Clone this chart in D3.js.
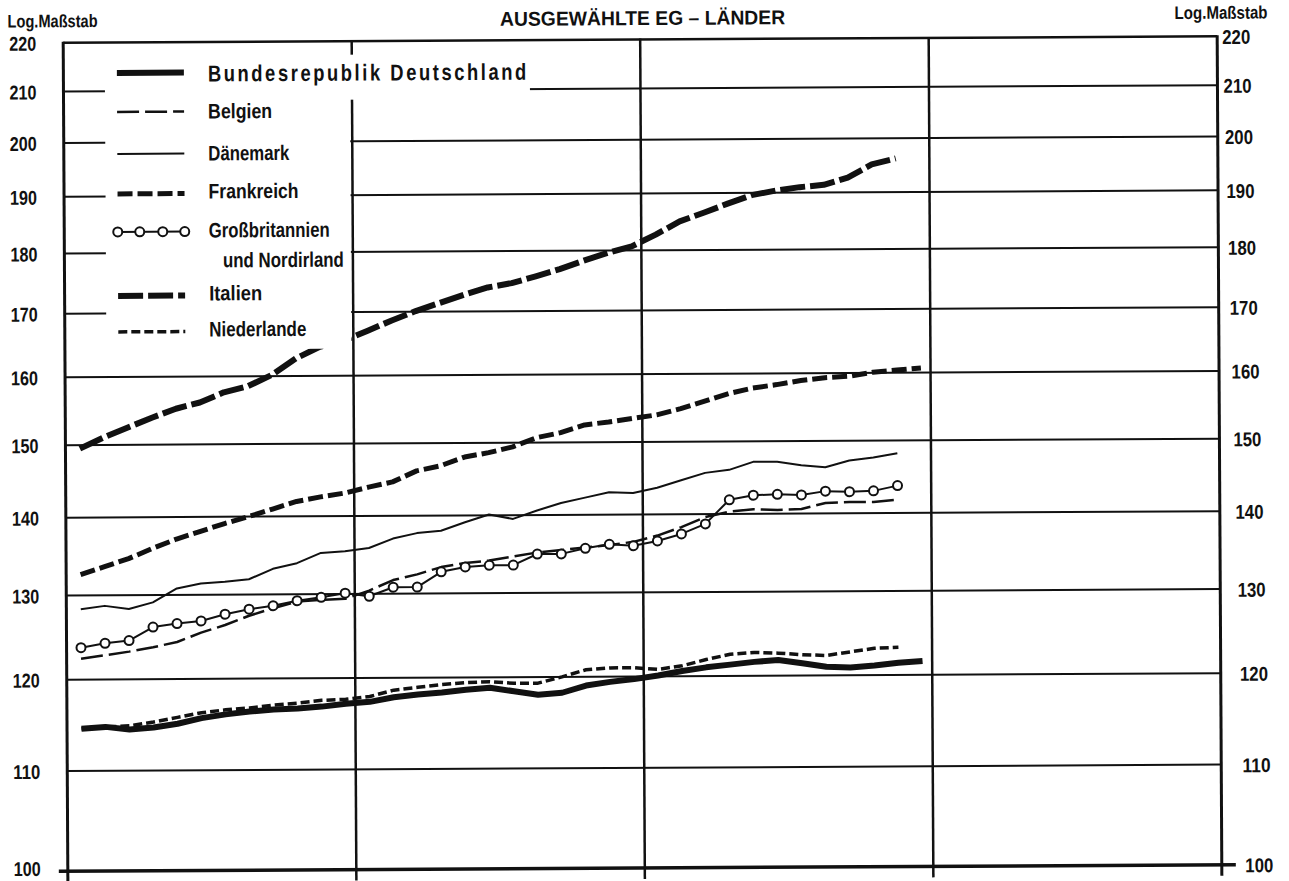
<!DOCTYPE html>
<html>
<head>
<meta charset="utf-8">
<script src="https://cdn.jsdelivr.net/npm/d3@7"></script>
<style>
  html, body { margin: 0; padding: 0; background: #fff; }
  svg { display: block; }
  text { font-family: "Liberation Sans", Arial, sans-serif; font-weight: bold; fill: #111; }
  .tick text { font-size: 20px; }
  .legend text { font-size: 21px; }
  .legend text.wide { font-size: 23px; }
  .scaleNote { font-size: 18px; }
  .title { font-size: 20px; }
</style>
</head>
<body>
<svg id="chart" width="1289" height="881"></svg>
<script>
'use strict';

// months Jan of year 1 .. Dec of year 3 (index)
const months = [0, 1, 2, 3, 4, 5, 6, 7, 8, 9, 10, 11,
                12, 13, 14, 15, 16, 17, 18, 19, 20, 21, 22, 23,
                24, 25, 26, 27, 28, 29, 30, 31, 32, 33, 34, 35];
const yearBreaks = [0, 12, 24, 36, 48];
const yTicks = [100, 110, 120, 130, 140, 150, 160, 170, 180, 190, 200, 210, 220];

const deutschland = [114.5, 114.7, 114.4, 114.6, 115.0, 115.6, 116.0, 116.3, 116.5, 116.6,
    116.8, 117.1, 117.3, 117.8, 118.1, 118.3, 118.6, 118.8, 118.4, 118.0,
    118.2, 119.0, 119.4, 119.7, 120.1, 120.6, 121.0, 121.3, 121.6, 121.8,
    121.4, 121.0, 120.9, 121.1, 121.4, 121.6];
const belgien = [122.4, 122.8, 123.2, 123.7, 124.3, 125.4, 126.3, 127.4, 128.3, 129.1,
    129.3, 129.4, 130.4, 131.7, 132.4, 133.3, 133.8, 134.1, 134.6, 135.1,
    135.4, 135.7, 136.0, 136.4, 137.2, 138.3, 139.6, 140.3, 140.6, 140.5,
    140.6, 141.4, 141.5, 141.5, 141.8];
const daenemark = [128.3, 128.7, 128.3, 129.1, 130.8, 131.4, 131.6, 131.9, 133.2, 133.9,
    135.2, 135.4, 135.8, 137.0, 137.7, 138.0, 139.1, 140.1, 139.5, 140.6,
    141.6, 142.3, 143.0, 142.9, 143.6, 144.6, 145.6, 146.0, 147.1, 147.1,
    146.6, 146.3, 147.2, 147.6, 148.2];
const frankreich = [132.6, 133.6, 134.6, 135.9, 137.1, 138.1, 139.1, 140.0, 141.0, 142.0,
    142.6, 143.1, 143.9, 144.6, 146.1, 146.8, 148.0, 148.6, 149.4, 150.7,
    151.4, 152.5, 152.9, 153.4, 153.9, 154.8, 155.9, 157.0, 157.8, 158.3,
    158.9, 159.3, 159.5, 160.1, 160.4, 160.7];
const grossbritannien = [123.7, 124.2, 124.5, 126.1, 126.5, 126.8, 127.6, 128.2, 128.6, 129.2,
    129.6, 130.1, 129.7, 130.8, 130.8, 132.7, 133.3, 133.5, 133.5, 134.9,
    134.9, 135.6, 136.1, 135.9, 136.5, 137.4, 138.7, 141.9, 142.5, 142.6,
    142.5, 143.0, 142.9, 143.0, 143.7];
const italien = [149.5, 151.1, 152.5, 153.9, 155.2, 156.1, 157.6, 158.5, 160.2, 162.7,
    164.5, 165.4, 167.0, 168.6, 170.1, 171.4, 172.7, 173.9, 174.6, 175.7,
    176.9, 178.3, 179.6, 180.7, 182.7, 185.0, 186.5, 188.1, 189.6, 190.4,
    191.0, 191.4, 192.7, 195.1, 196.2];
const niederlande = [114.5, 114.7, 114.8, 115.2, 115.7, 116.2, 116.5, 116.7, 117.0, 117.2,
    117.5, 117.6, 117.9, 118.6, 118.9, 119.2, 119.4, 119.5, 119.3, 119.3,
    120.0, 120.8, 121.0, 121.0, 120.8, 121.2, 121.9, 122.5, 122.7, 122.6,
    122.4, 122.3, 122.7, 123.1, 123.2];

const series = [
    { name: 'Bundesrepublik Deutschland', values: deutschland, width: 6, dash: null },
    { name: 'Belgien', values: belgien, width: 2.5, dash: '22,6' },
    { name: 'Dänemark', values: daenemark, width: 2, dash: null },
    { name: 'Frankreich', values: frankreich, width: 5, dash: '15,5' },
    { name: 'Großbritannien', sub: 'und Nordirland', values: grossbritannien, width: 2, dash: null, dots: true },
    { name: 'Italien', values: italien, width: 6, dash: '25,5' },
    { name: 'Niederlande', values: niederlande, width: 3.5, dash: '9,4' }
];

// legend rows: line y, text baseline, printed text width (condensed type)
const legendRows = [
    { lineY: 70, textY: 79, textW: 319 },
    { lineY: 109, textY: 116, textW: 64 },
    { lineY: 151, textY: 158, textW: 81 },
    { lineY: 191, textY: 196, textW: 90 },
    { lineY: 229, textY: 235, textW: 121, subW: 121 },
    { lineY: 293, textY: 298, textW: 53 },
    { lineY: 329, textY: 334, textW: 97 }
];

const svg = d3.select('#chart');
// the printed chart sits slightly tilted on the page
const g = svg.append('g').attr('transform', 'rotate(-0.32, 642, 454)');

const x = d3.scaleLinear().domain([0, 48]).range([65.5, 1219.5]);
const y = d3.scaleLog().domain([100, 220]).range([868, 39.5]);
const xm = i => x(months[i] + 0.6);

// horizontal grid
g.append('g').selectAll('line')
    .data(yTicks.filter(v => v > 100 && v < 220))
    .enter().append('line')
    .attr('x1', x(0)).attr('x2', x(48))
    .attr('y1', d => y(d)).attr('y2', d => y(d))
    .attr('stroke', '#111').attr('stroke-width', 2);

// top frame and base line
g.append('line').attr('x1', x(0)).attr('x2', x(48))
    .attr('y1', y(220)).attr('y2', y(220))
    .attr('stroke', '#111').attr('stroke-width', 2.5);
g.append('line').attr('x1', x(0) - 9).attr('x2', x(48) + 14)
    .attr('y1', y(100)).attr('y2', y(100))
    .attr('stroke', '#111').attr('stroke-width', 3.5);

// year lines and the two axes
g.append('g').selectAll('line')
    .data(yearBreaks)
    .enter().append('line')
    .attr('x1', d => x(d)).attr('x2', d => x(d))
    .attr('y1', y(220) - 1).attr('y2', y(100) + 11)
    .attr('stroke', '#111')
    .attr('stroke-width', d => (d === 0 || d === 48) ? 3 : 2.5);

// left / right tick labels
const leftAxis = g.append('g')
    .attr('transform', `translate(${x(0)},0)`)
    .call(d3.axisLeft(y).tickValues(yTicks).tickFormat(d3.format('d')).tickSize(0).tickPadding(27));
leftAxis.select('.domain').remove();
leftAxis.selectAll('text')
    .attr('dy', d => d === 100 ? '0.2em' : '0.36em')
    .attr('textLength', 27).attr('lengthAdjust', 'spacingAndGlyphs');

const rightAxis = g.append('g')
    .attr('transform', `translate(${x(48)},0)`)
    .call(d3.axisRight(y).tickValues(yTicks).tickFormat(d3.format('d')).tickSize(0));
rightAxis.select('.domain').remove();
rightAxis.selectAll('text')
    .attr('x', d => 5 + 18.5 * (y(d) - y(220)) / (y(100) - y(220)))
    .attr('dy', '0.36em')
    .attr('textLength', 28).attr('lengthAdjust', 'spacingAndGlyphs');

g.append('text').attr('class', 'scaleNote').attr('x', 10).attr('y', 24)
    .attr('textLength', 90).attr('lengthAdjust', 'spacingAndGlyphs').text('Log.Maßstab');
g.append('text').attr('class', 'scaleNote').attr('x', 1177).attr('y', 22)
    .attr('textLength', 93).attr('lengthAdjust', 'spacingAndGlyphs').text('Log.Maßstab');
g.append('text').attr('class', 'title')
    .attr('x', 645).attr('y', 25)
    .attr('text-anchor', 'middle')
    .attr('textLength', 285).attr('lengthAdjust', 'spacingAndGlyphs')
    .text('AUSGEWÄHLTE EG – LÄNDER');

// series lines
const line = d3.line()
    .x((d, i) => xm(i))
    .y(d => y(d));

const lines = g.append('g');
series.forEach(s => {
    lines.append('path')
        .datum(s.values)
        .attr('d', line)
        .attr('fill', 'none')
        .attr('stroke', '#111')
        .attr('stroke-width', s.width)
        .attr('stroke-dasharray', s.dash)
        .attr('stroke-linejoin', 'round');
    if (s.dots) {
        lines.append('g').selectAll('circle')
            .data(s.values)
            .enter().append('circle')
            .attr('cx', (d, i) => xm(i))
            .attr('cy', d => y(d))
            .attr('r', 4.5)
            .attr('fill', '#fff')
            .attr('stroke', '#111')
            .attr('stroke-width', 2);
    }
});

// legend with its white background cut out of the grid
const legend = g.append('g').attr('class', 'legend');
legend.append('rect').attr('x', 107).attr('y', 53).attr('width', 425).attr('height', 45).attr('fill', '#fff');
legend.append('rect').attr('x', 107).attr('y', 97).attr('width', 245).attr('height', 250).attr('fill', '#fff');

series.forEach((s, k) => {
    const row = legendRows[k];
    legend.append('line')
        .attr('x1', 119).attr('x2', 186)
        .attr('y1', row.lineY).attr('y2', row.lineY)
        .attr('stroke', '#111')
        .attr('stroke-width', s.width)
        .attr('stroke-dasharray', s.dash);
    if (s.dots) {
        legend.selectAll(null)
            .data([119, 141, 164, 186])
            .enter().append('circle')
            .attr('cx', d => d).attr('cy', row.lineY).attr('r', 4.5)
            .attr('fill', '#fff').attr('stroke', '#111').attr('stroke-width', 2);
    }
    if (k === 0) {
        // narrow letters, widely spaced
        legend.append('text')
            .attr('class', 'wide')
            .attr('transform', `translate(210,${row.textY}) scale(0.8,1)`)
            .style('letter-spacing', '3.2px')
            .text(s.name);
    } else {
        legend.append('text')
            .attr('x', 210).attr('y', row.textY)
            .attr('textLength', row.textW)
            .attr('lengthAdjust', 'spacingAndGlyphs')
            .text(s.name);
    }
    if (s.sub) {
        legend.append('text').attr('x', 224).attr('y', row.textY + 30)
            .attr('textLength', row.subW).attr('lengthAdjust', 'spacingAndGlyphs')
            .text(s.sub);
    }
});
</script>
</body>
</html>
